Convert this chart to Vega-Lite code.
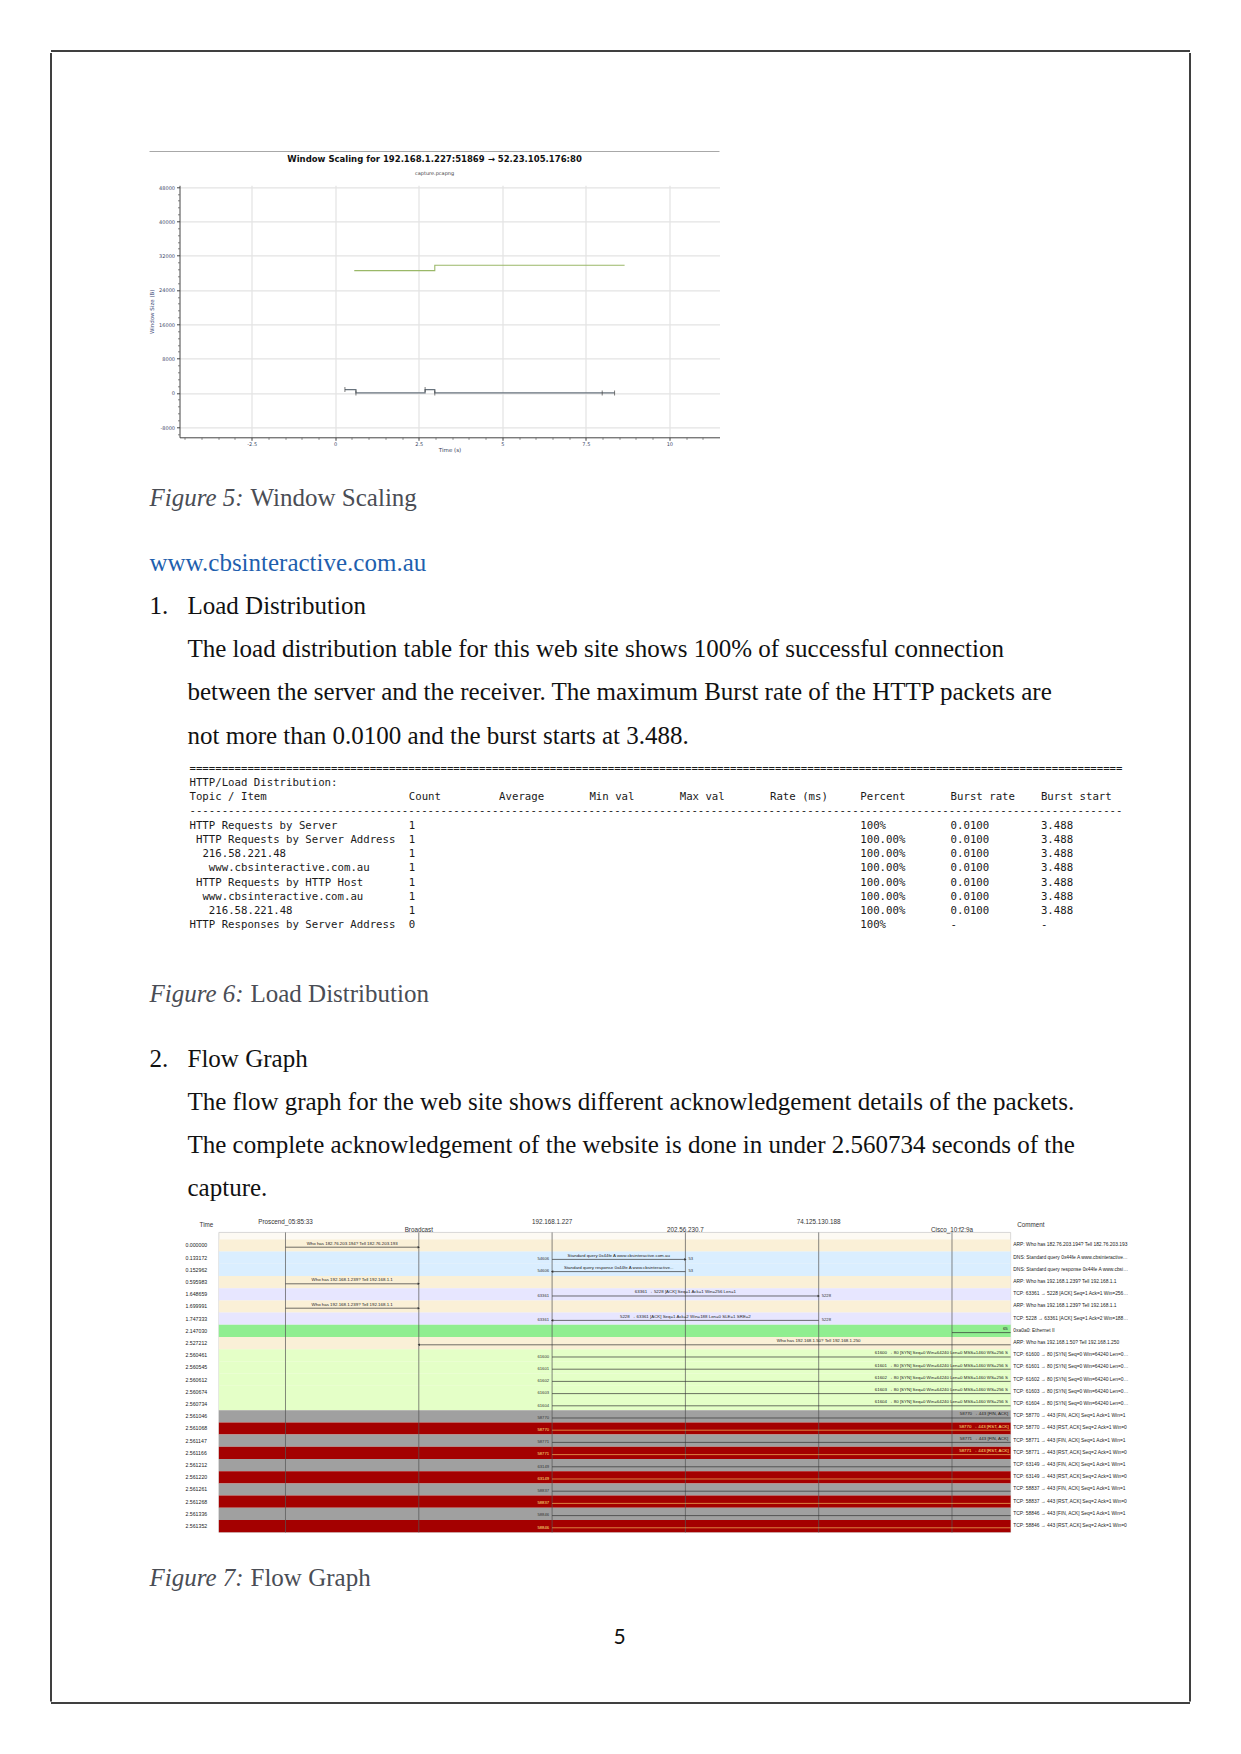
{
  "$schema": "https://vega.github.io/schema/vega-lite/v6.json",
  "background": "white",
  "padding": {"left": 49.5, "top": 49.5, "right": 0, "bottom": 0},
  "config": {"view": {"stroke": null}},
  "datasets": {
    "page": [
      {"block": 1, "kind": "caption", "line": 0, "label": "Figure 5:", "text": "Window Scaling"},
      {"block": 1, "kind": "link", "line": 3, "text": "www.cbsinteractive.com.au"},
      {"block": 1, "kind": "heading", "line": 5, "label": "1.", "text": "Load Distribution"},
      {"block": 1, "kind": "body", "line": 7, "text": "The load distribution table for this web site shows 100% of successful connection"},
      {"block": 1, "kind": "body", "line": 9, "text": "between the server and the receiver. The maximum Burst rate of the HTTP packets are"},
      {"block": 1, "kind": "body", "line": 11, "text": "not more than 0.0100 and the burst starts at 3.488."},
      {"block": 2, "kind": "caption", "line": 0, "label": "Figure 6:", "text": "Load Distribution"},
      {"block": 2, "kind": "heading", "line": 3, "label": "2.", "text": "Flow Graph"},
      {"block": 2, "kind": "body", "line": 5, "text": "The flow graph for the web site shows different acknowledgement details of the packets."},
      {"block": 2, "kind": "body", "line": 7, "text": "The complete acknowledgement of the website is done in under 2.560734 seconds of the"},
      {"block": 2, "kind": "body", "line": 9, "text": "capture."},
      {"block": 3, "kind": "caption", "line": 0, "label": "Figure 7:", "text": "Flow Graph"},
      {"block": 3, "kind": "pagenum", "line": 3, "text": "5"}
    ],
    "table": [
      {"line": 0, "level": 0, "topic": "================================================================================================================================================="},
      {"line": 1, "level": 0, "topic": "HTTP/Load Distribution:"},
      {"line": 2, "level": 0, "topic": "Topic / Item", "count": "Count", "avg": "Average", "min": "Min val", "max": "Max val", "rate": "Rate (ms)", "pct": "Percent", "brate": "Burst rate", "bstart": "Burst start"},
      {"line": 3, "level": 0, "topic": "-------------------------------------------------------------------------------------------------------------------------------------------------"},
      {"line": 4, "level": 0, "topic": "HTTP Requests by Server", "count": "1", "pct": "100%", "brate": "0.0100", "bstart": "3.488"},
      {"line": 5, "level": 1, "topic": "HTTP Requests by Server Address", "count": "1", "pct": "100.00%", "brate": "0.0100", "bstart": "3.488"},
      {"line": 6, "level": 2, "topic": "216.58.221.48", "count": "1", "pct": "100.00%", "brate": "0.0100", "bstart": "3.488"},
      {"line": 7, "level": 3, "topic": "www.cbsinteractive.com.au", "count": "1", "pct": "100.00%", "brate": "0.0100", "bstart": "3.488"},
      {"line": 8, "level": 1, "topic": "HTTP Requests by HTTP Host", "count": "1", "pct": "100.00%", "brate": "0.0100", "bstart": "3.488"},
      {"line": 9, "level": 2, "topic": "www.cbsinteractive.com.au", "count": "1", "pct": "100.00%", "brate": "0.0100", "bstart": "3.488"},
      {"line": 10, "level": 3, "topic": "216.58.221.48", "count": "1", "pct": "100.00%", "brate": "0.0100", "bstart": "3.488"},
      {"line": 11, "level": 0, "topic": "HTTP Responses by Server Address", "count": "0", "pct": "100%", "brate": "-", "bstart": "-"}
    ],
    "nodes": [
      {"name": "Proscend_05:85:33", "idx": 0, "tier": 0},
      {"name": "Broadcast", "idx": 1, "tier": 1},
      {"name": "192.168.1.227", "idx": 2, "tier": 0},
      {"name": "202.56.230.7", "idx": 3, "tier": 1},
      {"name": "74.125.130.188", "idx": 4, "tier": 0},
      {"name": "Cisco_10:f2:9a", "idx": 5, "tier": 1}
    ],
    "flow": [
      {"row": 0, "t": "0.000000", "proto": "ARP", "a": 0, "b": 1, "dir": "right", "mid": 0.5, "label": "Who has 182.76.203.194? Tell 182.76.203.193", "p1": "", "p2": "", "comment": "ARP: Who has 182.76.203.194? Tell 182.76.203.193"},
      {"row": 1, "t": "0.133172", "proto": "DNS", "a": 2, "b": 3, "dir": "right", "mid": 2.5, "label": "Standard query 0x44fe A www.cbsinteractive.com.au", "p1": "54606", "p2": "53", "comment": "DNS: Standard query 0x44fe A www.cbsinteractive.com.au"},
      {"row": 2, "t": "0.152962", "proto": "DNS", "a": 2, "b": 3, "dir": "left", "mid": 2.5, "label": "Standard query response 0x44fe A www.cbsinteractive...", "p1": "54606", "p2": "53", "comment": "DNS: Standard query response 0x44fe A www.cbsinteractive.com.au"},
      {"row": 3, "t": "0.595983", "proto": "ARP", "a": 0, "b": 1, "dir": "right", "mid": 0.5, "label": "Who has 192.168.1.239? Tell 192.168.1.1", "p1": "", "p2": "", "comment": "ARP: Who has 192.168.1.239? Tell 192.168.1.1"},
      {"row": 4, "t": "1.648659", "proto": "TCP", "a": 2, "b": 4, "dir": "right", "mid": 3, "label": "63361 → 5228 [ACK] Seq=1 Ack=1 Win=256 Len=1", "p1": "63361", "p2": "5228", "comment": "TCP: 63361 → 5228 [ACK] Seq=1 Ack=1 Win=256 Len=1"},
      {"row": 5, "t": "1.699991", "proto": "ARP", "a": 0, "b": 1, "dir": "right", "mid": 0.5, "label": "Who has 192.168.1.239? Tell 192.168.1.1", "p1": "", "p2": "", "comment": "ARP: Who has 192.168.1.239? Tell 192.168.1.1"},
      {"row": 6, "t": "1.747333", "proto": "TCP", "a": 2, "b": 4, "dir": "left", "mid": 3, "label": "5228 → 63361 [ACK] Seq=1 Ack=2 Win=188 Len=0 SLE=1 SRE=2", "p1": "63361", "p2": "5228", "comment": "TCP: 5228 → 63361 [ACK] Seq=1 Ack=2 Win=188 Len=0 SLE=1 SRE=2"},
      {"row": 7, "t": "2.147030", "proto": "ETH", "a": 5, "b": 5.44, "dir": "right", "mid": 5.4, "label": "65", "p1": "", "p2": "", "comment": "0xa0a0: Ethernet II"},
      {"row": 8, "t": "2.527212", "proto": "ARP", "a": 1, "b": 5.44, "dir": "left", "mid": 4.0, "label": "Who has 192.168.1.50? Tell 192.168.1.250", "p1": "", "p2": "", "comment": "ARP: Who has 192.168.1.50? Tell 192.168.1.250"},
      {"row": 9, "t": "2.560461", "proto": "SYN", "a": 2, "b": 5.44, "dir": "right", "mid": 4.92, "label": "61600 → 80 [SYN] Seq=0 Win=64240 Len=0 MSS=1460 WS=256 S", "p1": "61600", "p2": "", "comment": "TCP: 61600 → 80 [SYN] Seq=0 Win=64240 Len=0 MSS=1460"},
      {"row": 10, "t": "2.560545", "proto": "SYN", "a": 2, "b": 5.44, "dir": "right", "mid": 4.92, "label": "61601 → 80 [SYN] Seq=0 Win=64240 Len=0 MSS=1460 WS=256 S", "p1": "61601", "p2": "", "comment": "TCP: 61601 → 80 [SYN] Seq=0 Win=64240 Len=0 MSS=1460"},
      {"row": 11, "t": "2.560612", "proto": "SYN", "a": 2, "b": 5.44, "dir": "right", "mid": 4.92, "label": "61602 → 80 [SYN] Seq=0 Win=64240 Len=0 MSS=1460 WS=256 S", "p1": "61602", "p2": "", "comment": "TCP: 61602 → 80 [SYN] Seq=0 Win=64240 Len=0 MSS=1460"},
      {"row": 12, "t": "2.560674", "proto": "SYN", "a": 2, "b": 5.44, "dir": "right", "mid": 4.92, "label": "61603 → 80 [SYN] Seq=0 Win=64240 Len=0 MSS=1460 WS=256 S", "p1": "61603", "p2": "", "comment": "TCP: 61603 → 80 [SYN] Seq=0 Win=64240 Len=0 MSS=1460"},
      {"row": 13, "t": "2.560734", "proto": "SYN", "a": 2, "b": 5.44, "dir": "right", "mid": 4.92, "label": "61604 → 80 [SYN] Seq=0 Win=64240 Len=0 MSS=1460 WS=256 S", "p1": "61604", "p2": "", "comment": "TCP: 61604 → 80 [SYN] Seq=0 Win=64240 Len=0 MSS=1460"},
      {"row": 14, "t": "2.561046", "proto": "FIN", "a": 2, "b": 5.44, "dir": "right", "mid": 5.24, "label": "58770 → 443 [FIN, ACK]", "p1": "58770", "p2": "", "comment": "TCP: 58770 → 443 [FIN, ACK] Seq=1 Ack=1 Win=1"},
      {"row": 15, "t": "2.561068", "proto": "RST", "a": 2, "b": 5.44, "dir": "right", "mid": 5.24, "label": "58770 → 443 [RST, ACK]", "p1": "58770", "p2": "", "comment": "TCP: 58770 → 443 [RST, ACK] Seq=2 Ack=1 Win=0"},
      {"row": 16, "t": "2.561147", "proto": "FIN", "a": 2, "b": 5.44, "dir": "right", "mid": 5.24, "label": "58771 → 443 [FIN, ACK]", "p1": "58771", "p2": "", "comment": "TCP: 58771 → 443 [FIN, ACK] Seq=1 Ack=1 Win=1"},
      {"row": 17, "t": "2.561166", "proto": "RST", "a": 2, "b": 5.44, "dir": "right", "mid": 5.24, "label": "58771 → 443 [RST, ACK]", "p1": "58771", "p2": "", "comment": "TCP: 58771 → 443 [RST, ACK] Seq=2 Ack=1 Win=0"},
      {"row": 18, "t": "2.561212", "proto": "FIN", "a": 2, "b": 5.44, "dir": "right", "mid": 5.24, "label": "", "p1": "63149", "p2": "", "comment": "TCP: 63149 → 443 [FIN, ACK] Seq=1 Ack=1 Win=1"},
      {"row": 19, "t": "2.561220", "proto": "RST", "a": 2, "b": 5.44, "dir": "right", "mid": 5.24, "label": "", "p1": "63149", "p2": "", "comment": "TCP: 63149 → 443 [RST, ACK] Seq=2 Ack=1 Win=0"},
      {"row": 20, "t": "2.561261", "proto": "FIN", "a": 2, "b": 5.44, "dir": "right", "mid": 5.24, "label": "", "p1": "58837", "p2": "", "comment": "TCP: 58837 → 443 [FIN, ACK] Seq=1 Ack=1 Win=1"},
      {"row": 21, "t": "2.561268", "proto": "RST", "a": 2, "b": 5.44, "dir": "right", "mid": 5.24, "label": "", "p1": "58837", "p2": "", "comment": "TCP: 58837 → 443 [RST, ACK] Seq=2 Ack=1 Win=0"},
      {"row": 22, "t": "2.561336", "proto": "FIN", "a": 2, "b": 5.44, "dir": "right", "mid": 5.24, "label": "", "p1": "58846", "p2": "", "comment": "TCP: 58846 → 443 [FIN, ACK] Seq=1 Ack=1 Win=1"},
      {"row": 23, "t": "2.561352", "proto": "RST", "a": 2, "b": 5.44, "dir": "right", "mid": 5.24, "label": "", "p1": "58846", "p2": "", "comment": "TCP: 58846 → 443 [RST, ACK] Seq=2 Ack=1 Win=0"}
    ],
    "window": [
      {"series": "Receive window", "time": 0.57, "size": 28500},
      {"series": "Receive window", "time": 2.98, "size": 29760},
      {"series": "Receive window", "time": 8.66, "size": 29760},
      {"series": "Bytes out", "time": 0.29, "size": 770},
      {"series": "Bytes out", "time": 0.62, "size": 0},
      {"series": "Bytes out", "time": 2.69, "size": 770},
      {"series": "Bytes out", "time": 2.98, "size": 0},
      {"series": "Bytes out", "time": 7.99, "size": 0},
      {"series": "Bytes out", "time": 8.36, "size": 0}
    ]
  },
  "spacing": 0,
  "vconcat": [
    {"width": 1139, "height": 0.01, "view": {"stroke": "#000000", "strokeWidth": 1}, "data": {"values": []}, "mark": {"type": "point", "opacity": 0}, "encoding": {}},
    {
      "spacing": 0,
      "hconcat": [
        {"width": 0.01, "height": 1648.5, "view": {"stroke": "#000000", "strokeWidth": 1}, "data": {"values": []}, "mark": {"type": "point", "opacity": 0}, "encoding": {}},
        {"width": 96.5, "height": 1, "data": {"values": []}, "mark": {"type": "point", "opacity": 0}, "encoding": {}},
        {
          "spacing": 0,
          "vconcat": [
            {
              "spacing": 2.8,
              "vconcat": [
                {
                  "width": 540, "height": 99,
                  "data": {"values": [{}]},
                  "mark": {"type": "rule", "color": "#a8a8a8", "strokeWidth": 1},
                  "encoding": {
                    "x": {"datum": 0, "type": "quantitative", "scale": {"domain": [0, 1], "range": [-30, 540]}, "axis": null},
                    "x2": {"datum": 1},
                    "y": {"datum": 0, "type": "quantitative", "scale": {"domain": [0, 1]}, "axis": null}
                  }
                },
                {
                  "width": 540, "height": 252,
                  "title": {
                    "text": "Window Scaling for 192.168.1.227:51869 → 52.23.105.176:80",
                    "subtitle": "capture.pcapng",
                    "frame": "bounds", "anchor": "middle",
                    "font": "DejaVu Sans", "fontSize": 8.5, "fontWeight": "bold", "color": "#111111",
                    "subtitleFont": "DejaVu Sans", "subtitleFontSize": 5, "subtitleColor": "#444444",
                    "subtitlePadding": 7.1, "offset": 9.1
                  },
                  "data": {"name": "window"},
                  "resolve": {"axis": {"x": "independent", "y": "independent"}},
                  "layer": [
                    {
                      "transform": [{"filter": "datum.series === 'Receive window'"}],
                      "mark": {"type": "line", "interpolate": "step-after", "color": "#9ab868", "strokeWidth": 1.1},
                      "encoding": {
                        "x": {
                          "field": "time", "type": "quantitative",
                          "scale": {"domain": [-4.66, 11.5], "nice": false, "zero": false},
                          "axis": {
                            "orient": "bottom",
                            "values": [-2.5, 0, 2.5, 5, 7.5, 10],
                            "labelExpr": "datum.value < 0 ? '-' + format(-datum.value, '~g') : format(datum.value, '~g')",
                            "title": "Time (s)", "titleFont": "DejaVu Sans", "titleFontSize": 5.5, "titleFontWeight": "normal", "titleColor": "#333b55", "titlePadding": 1,
                            "labelFont": "DejaVu Sans", "labelFontSize": 5, "labelColor": "#3c4668", "labelPadding": 1, "labelFlush": false, "labelOverlap": false,
                            "tickSize": 3, "tickColor": "#444444", "domainColor": "#444444", "domainWidth": 1,
                            "grid": true, "gridColor": "#e3e3e3", "gridWidth": 1.2
                          }
                        },
                        "y": {
                          "field": "size", "type": "quantitative",
                          "scale": {"domain": [-10350, 48400], "nice": false, "zero": false},
                          "axis": {
                            "orient": "left",
                            "values": [-8000, 0, 8000, 16000, 24000, 32000, 40000, 48000],
                            "labelExpr": "datum.value < 0 ? '-' + format(-datum.value, 'd') : format(datum.value, 'd')",
                            "title": "Window Size (B)", "titleFont": "DejaVu Sans", "titleFontSize": 5.5, "titleFontWeight": "normal", "titleColor": "#3d4a78", "titlePadding": 4,
                            "labelFont": "DejaVu Sans", "labelFontSize": 5, "labelColor": "#3c4668", "labelPadding": 2, "labelFlush": false, "labelOverlap": false,
                            "tickSize": 3, "tickColor": "#444444", "domainColor": "#444444", "domainWidth": 1,
                            "grid": true, "gridColor": "#e3e3e3", "gridWidth": 1.2
                          }
                        }
                      }
                    },
                    {
                      "transform": [{"filter": "datum.series === 'Bytes out'"}],
                      "mark": {"type": "line", "interpolate": "step-after", "color": "#68737d", "strokeWidth": 1.2},
                      "encoding": {
                        "x": {"field": "time", "type": "quantitative", "scale": {"domain": [-4.66, 11.5], "nice": false, "zero": false}, "axis": null},
                        "y": {"field": "size", "type": "quantitative", "scale": {"domain": [-10350, 48400], "nice": false, "zero": false}, "axis": null}
                      }
                    },
                    {
                      "transform": [{"filter": "datum.series === 'Bytes out'"}],
                      "mark": {"type": "tick", "orient": "vertical", "size": 5, "thickness": 1, "color": "#444444"},
                      "encoding": {
                        "x": {
                          "field": "time", "type": "quantitative",
                          "scale": {"domain": [-4.66, 11.5], "nice": false, "zero": false},
                          "axis": {
                            "orient": "bottom",
                            "values": [-4.5, -4, -3.5, -3, -2, -1.5, -1, -0.5, 0.5, 1, 1.5, 2, 3, 3.5, 4, 4.5, 5.5, 6, 6.5, 7, 8, 8.5, 9, 9.5, 10.5, 11],
                            "labels": false, "domain": false, "grid": false, "title": null,
                            "ticks": true, "tickSize": 2, "tickColor": "#666666", "tickWidth": 0.8
                          }
                        },
                        "y": {
                          "field": "size", "type": "quantitative",
                          "scale": {"domain": [-10350, 48400], "nice": false, "zero": false},
                          "axis": {
                            "orient": "left",
                            "values": [-9600, -6400, -4800, -3200, -1600, 1600, 3200, 4800, 6400, 9600, 11200, 12800, 14400, 17600, 19200, 20800, 22400, 25600, 27200, 28800, 30400, 33600, 35200, 36800, 38400, 41600, 43200, 44800, 46400],
                            "labels": false, "domain": false, "grid": false, "title": null,
                            "ticks": true, "tickSize": 2, "tickColor": "#666666", "tickWidth": 0.8
                          }
                        }
                      }
                    }
                  ]
                }
              ]
            },
            {
              "width": 1008.5, "height": 307.4,
              "data": {"name": "page"},
              "transform": [{"filter": "datum.block === 1"}],
              "encoding": {"y": {"field": "line", "type": "quantitative", "scale": {"domain": [-2.06, 12.171], "reverse": true, "nice": false, "zero": false}, "axis": null}},
              "layer": [
                {"transform": [{"filter": "datum.kind === 'caption'"}], "mark": {"type": "text", "align": "left", "baseline": "middle", "font": "Liberation Serif", "fontSize": 25, "fontStyle": "italic", "color": "#4a4d55"}, "encoding": {"x": {"datum": 0, "type": "quantitative", "scale": {"domain": [0, 1], "range": [-30, 8]}, "axis": null}, "text": {"field": "label"}}},
                {"transform": [{"filter": "datum.kind === 'caption'"}], "mark": {"type": "text", "align": "left", "baseline": "middle", "font": "Liberation Serif", "fontSize": 25, "dx": 101, "color": "#4a4d55"}, "encoding": {"x": {"datum": 0, "type": "quantitative", "scale": {"domain": [0, 1], "range": [-30, 8]}, "axis": null}, "text": {"field": "text"}}},
                {"transform": [{"filter": "datum.kind === 'link'"}], "mark": {"type": "text", "align": "left", "baseline": "middle", "font": "Liberation Serif", "fontSize": 25, "color": "#1f5fae"}, "encoding": {"x": {"datum": 0, "type": "quantitative", "scale": {"domain": [0, 1], "range": [-30, 8]}, "axis": null}, "text": {"field": "text"}}},
                {"transform": [{"filter": "datum.kind === 'heading'"}], "mark": {"type": "text", "align": "left", "baseline": "middle", "font": "Liberation Serif", "fontSize": 25, "color": "#111111"}, "encoding": {"x": {"datum": 0, "type": "quantitative", "scale": {"domain": [0, 1], "range": [-30, 8]}, "axis": null}, "text": {"field": "label"}}},
                {"transform": [{"filter": "datum.kind === 'heading' || datum.kind === 'body'"}], "mark": {"type": "text", "align": "left", "baseline": "middle", "font": "Liberation Serif", "fontSize": 25, "color": "#111111"}, "encoding": {"x": {"datum": 1, "type": "quantitative", "scale": {"domain": [0, 1], "range": [-30, 8]}, "axis": null}, "text": {"field": "text"}}}
              ]
            },
            {
              "width": 1008.5, "height": 170.9,
              "data": {"name": "table"},
              "encoding": {"y": {"field": "line", "type": "quantitative", "scale": {"domain": [-0.5, 11.5], "reverse": true, "nice": false, "zero": false}, "axis": null}},
              "layer": [
                {"mark": {"type": "text", "align": "left", "baseline": "middle", "font": "DejaVu Sans Mono", "fontSize": 10.7, "color": "#1a1a1a"}, "encoding": {"x": {"field": "level", "type": "quantitative", "scale": {"domain": [0, 145], "range": [10, 945.25]}, "axis": null}, "text": {"field": "topic"}}},
                {"transform": [{"filter": "isValid(datum.count)"}], "mark": {"type": "text", "align": "left", "baseline": "middle", "font": "DejaVu Sans Mono", "fontSize": 10.7, "color": "#1a1a1a"}, "encoding": {"x": {"datum": 34, "type": "quantitative", "scale": {"domain": [0, 145], "range": [10, 945.25]}, "axis": null}, "text": {"field": "count"}}},
                {"transform": [{"filter": "isValid(datum.avg)"}], "mark": {"type": "text", "align": "left", "baseline": "middle", "font": "DejaVu Sans Mono", "fontSize": 10.7, "color": "#1a1a1a"}, "encoding": {"x": {"datum": 48, "type": "quantitative", "scale": {"domain": [0, 145], "range": [10, 945.25]}, "axis": null}, "text": {"field": "avg"}}},
                {"transform": [{"filter": "isValid(datum.min)"}], "mark": {"type": "text", "align": "left", "baseline": "middle", "font": "DejaVu Sans Mono", "fontSize": 10.7, "color": "#1a1a1a"}, "encoding": {"x": {"datum": 62, "type": "quantitative", "scale": {"domain": [0, 145], "range": [10, 945.25]}, "axis": null}, "text": {"field": "min"}}},
                {"transform": [{"filter": "isValid(datum.max)"}], "mark": {"type": "text", "align": "left", "baseline": "middle", "font": "DejaVu Sans Mono", "fontSize": 10.7, "color": "#1a1a1a"}, "encoding": {"x": {"datum": 76, "type": "quantitative", "scale": {"domain": [0, 145], "range": [10, 945.25]}, "axis": null}, "text": {"field": "max"}}},
                {"transform": [{"filter": "isValid(datum.rate)"}], "mark": {"type": "text", "align": "left", "baseline": "middle", "font": "DejaVu Sans Mono", "fontSize": 10.7, "color": "#1a1a1a"}, "encoding": {"x": {"datum": 90, "type": "quantitative", "scale": {"domain": [0, 145], "range": [10, 945.25]}, "axis": null}, "text": {"field": "rate"}}},
                {"transform": [{"filter": "isValid(datum.pct)"}], "mark": {"type": "text", "align": "left", "baseline": "middle", "font": "DejaVu Sans Mono", "fontSize": 10.7, "color": "#1a1a1a"}, "encoding": {"x": {"datum": 104, "type": "quantitative", "scale": {"domain": [0, 145], "range": [10, 945.25]}, "axis": null}, "text": {"field": "pct"}}},
                {"transform": [{"filter": "isValid(datum.brate)"}], "mark": {"type": "text", "align": "left", "baseline": "middle", "font": "DejaVu Sans Mono", "fontSize": 10.7, "color": "#1a1a1a"}, "encoding": {"x": {"datum": 118, "type": "quantitative", "scale": {"domain": [0, 145], "range": [10, 945.25]}, "axis": null}, "text": {"field": "brate"}}},
                {"transform": [{"filter": "isValid(datum.bstart)"}], "mark": {"type": "text", "align": "left", "baseline": "middle", "font": "DejaVu Sans Mono", "fontSize": 10.7, "color": "#1a1a1a"}, "encoding": {"x": {"datum": 132, "type": "quantitative", "scale": {"domain": [0, 145], "range": [10, 945.25]}, "axis": null}, "text": {"field": "bstart"}}}
              ]
            },
            {
              "width": 1008.5, "height": 282.2,
              "data": {"name": "page"},
              "transform": [{"filter": "datum.block === 2"}],
              "encoding": {"y": {"field": "line", "type": "quantitative", "scale": {"domain": [-2.833, 10.231], "reverse": true, "nice": false, "zero": false}, "axis": null}},
              "layer": [
                {"transform": [{"filter": "datum.kind === 'caption'"}], "mark": {"type": "text", "align": "left", "baseline": "middle", "font": "Liberation Serif", "fontSize": 25, "fontStyle": "italic", "color": "#4a4d55"}, "encoding": {"x": {"datum": 0, "type": "quantitative", "scale": {"domain": [0, 1], "range": [-30, 8]}, "axis": null}, "text": {"field": "label"}}},
                {"transform": [{"filter": "datum.kind === 'caption'"}], "mark": {"type": "text", "align": "left", "baseline": "middle", "font": "Liberation Serif", "fontSize": 25, "dx": 101, "color": "#4a4d55"}, "encoding": {"x": {"datum": 0, "type": "quantitative", "scale": {"domain": [0, 1], "range": [-30, 8]}, "axis": null}, "text": {"field": "text"}}},
                {"transform": [{"filter": "datum.kind === 'heading'"}], "mark": {"type": "text", "align": "left", "baseline": "middle", "font": "Liberation Serif", "fontSize": 25, "color": "#111111"}, "encoding": {"x": {"datum": 0, "type": "quantitative", "scale": {"domain": [0, 1], "range": [-30, 8]}, "axis": null}, "text": {"field": "label"}}},
                {"transform": [{"filter": "datum.kind === 'heading' || datum.kind === 'body'"}], "mark": {"type": "text", "align": "left", "baseline": "middle", "font": "Liberation Serif", "fontSize": 25, "color": "#111111"}, "encoding": {"x": {"datum": 1, "type": "quantitative", "scale": {"domain": [0, 1], "range": [-30, 8]}, "axis": null}, "text": {"field": "text"}}}
              ]
            },
            {
              "width": 950, "height": 317,
              "layer": [
                {
                  "data": {"values": [{}]},
                  "mark": {"type": "rect", "fill": "#fdfaf3", "stroke": "#c8c8c8", "strokeWidth": 0.7},
                  "encoding": {
                    "x": {"datum": -0.5, "type": "quantitative", "scale": {"domain": [-0.7952, 6.3316], "nice": false, "zero": false}, "axis": null},
                    "x2": {"datum": 5.44},
                    "y": {"datum": -1.07, "type": "quantitative", "scale": {"domain": [-2.459, 23.525], "reverse": true, "nice": false, "zero": false}, "axis": null},
                    "y2": {"datum": 23.52}
                  }
                },
                {
                  "data": {"name": "flow"},
                  "mark": {"type": "rect", "height": 12.2},
                  "encoding": {
                    "x": {"datum": -0.5, "type": "quantitative", "scale": {"domain": [-0.7952, 6.3316], "nice": false, "zero": false}, "axis": null},
                    "x2": {"datum": 5.44},
                    "y": {"field": "row", "type": "quantitative", "scale": {"domain": [-2.459, 23.525], "reverse": true, "nice": false, "zero": false}, "axis": null},
                    "color": {"field": "proto", "type": "nominal", "legend": null, "scale": {"domain": ["ARP", "DNS", "TCP", "ETH", "SYN", "FIN", "RST"], "range": ["#faf0d7", "#daeeff", "#e7e6ff", "#90ee90", "#e4ffc7", "#a0a0a0", "#a40000"]}}
                  }
                },
                {
                  "data": {"name": "nodes"},
                  "mark": {"type": "rule", "color": "#555555", "strokeWidth": 0.7},
                  "encoding": {
                    "x": {"field": "idx", "type": "quantitative", "scale": {"domain": [-0.7952, 6.3316], "nice": false, "zero": false}, "axis": null},
                    "y": {"datum": -1.07, "type": "quantitative", "scale": {"domain": [-2.459, 23.525], "reverse": true, "nice": false, "zero": false}, "axis": null},
                    "y2": {"datum": 23.52}
                  }
                },
                {
                  "data": {"name": "nodes"},
                  "transform": [{"filter": "datum.tier === 0"}],
                  "mark": {"type": "text", "align": "center", "baseline": "middle", "font": "Liberation Sans", "fontSize": 6.3, "color": "#333333"},
                  "encoding": {
                    "x": {"field": "idx", "type": "quantitative", "scale": {"domain": [-0.7952, 6.3316], "nice": false, "zero": false}, "axis": null},
                    "y": {"datum": -1.967, "type": "quantitative", "scale": {"domain": [-2.459, 23.525], "reverse": true, "nice": false, "zero": false}, "axis": null},
                    "text": {"field": "name"}
                  }
                },
                {
                  "data": {"name": "nodes"},
                  "transform": [{"filter": "datum.tier === 1"}],
                  "mark": {"type": "text", "align": "center", "baseline": "middle", "font": "Liberation Sans", "fontSize": 6.3, "color": "#333333"},
                  "encoding": {
                    "x": {"field": "idx", "type": "quantitative", "scale": {"domain": [-0.7952, 6.3316], "nice": false, "zero": false}, "axis": null},
                    "y": {"datum": -1.311, "type": "quantitative", "scale": {"domain": [-2.459, 23.525], "reverse": true, "nice": false, "zero": false}, "axis": null},
                    "text": {"field": "name"}
                  }
                },
                {
                  "data": {"values": [{"head": "Time"}]},
                  "mark": {"type": "text", "align": "center", "baseline": "middle", "font": "Liberation Sans", "fontSize": 6.3, "color": "#333333"},
                  "encoding": {
                    "x": {"datum": -0.593, "type": "quantitative", "scale": {"domain": [-0.7952, 6.3316], "nice": false, "zero": false}, "axis": null},
                    "y": {"datum": -1.721, "type": "quantitative", "scale": {"domain": [-2.459, 23.525], "reverse": true, "nice": false, "zero": false}, "axis": null},
                    "text": {"field": "head"}
                  }
                },
                {
                  "data": {"values": [{"head": "Comment"}]},
                  "mark": {"type": "text", "align": "left", "baseline": "middle", "font": "Liberation Sans", "fontSize": 6.3, "color": "#333333"},
                  "encoding": {
                    "x": {"datum": 5.49, "type": "quantitative", "scale": {"domain": [-0.7952, 6.3316], "nice": false, "zero": false}, "axis": null},
                    "y": {"datum": -1.721, "type": "quantitative", "scale": {"domain": [-2.459, 23.525], "reverse": true, "nice": false, "zero": false}, "axis": null},
                    "text": {"field": "head"}
                  }
                },
                {
                  "data": {"name": "flow"},
                  "mark": {"type": "text", "align": "left", "baseline": "middle", "font": "Liberation Sans", "fontSize": 5.2, "color": "#222222"},
                  "encoding": {
                    "x": {"datum": -0.75, "type": "quantitative", "scale": {"domain": [-0.7952, 6.3316], "nice": false, "zero": false}, "axis": null},
                    "y": {"field": "row", "type": "quantitative", "scale": {"domain": [-2.459, 23.525], "reverse": true, "nice": false, "zero": false}, "axis": null},
                    "text": {"field": "t"}
                  }
                },
                {
                  "data": {"name": "flow"},
                  "mark": {"type": "rule", "strokeWidth": 0.7, "yOffset": 1.7},
                  "encoding": {
                    "x": {"field": "a", "type": "quantitative", "scale": {"domain": [-0.7952, 6.3316], "nice": false, "zero": false}, "axis": null},
                    "x2": {"field": "b"},
                    "y": {"field": "row", "type": "quantitative", "scale": {"domain": [-2.459, 23.525], "reverse": true, "nice": false, "zero": false}, "axis": null},
                    "color": {"condition": {"test": "datum.proto === 'RST'", "value": "#f3b75a"}, "value": "#333333"}
                  }
                },
                {
                  "data": {"name": "flow"},
                  "transform": [{"filter": "datum.dir === 'right' && datum.b <= 5"}],
                  "mark": {"type": "point", "shape": "triangle-right", "size": 7, "filled": true, "opacity": 1, "yOffset": 1.7, "color": "#333333"},
                  "encoding": {
                    "x": {"field": "b", "type": "quantitative", "scale": {"domain": [-0.7952, 6.3316], "nice": false, "zero": false}, "axis": null},
                    "y": {"field": "row", "type": "quantitative", "scale": {"domain": [-2.459, 23.525], "reverse": true, "nice": false, "zero": false}, "axis": null}
                  }
                },
                {
                  "data": {"name": "flow"},
                  "transform": [{"filter": "datum.dir === 'left'"}],
                  "mark": {"type": "point", "shape": "triangle-left", "size": 7, "filled": true, "opacity": 1, "yOffset": 1.7, "color": "#333333"},
                  "encoding": {
                    "x": {"field": "a", "type": "quantitative", "scale": {"domain": [-0.7952, 6.3316], "nice": false, "zero": false}, "axis": null},
                    "y": {"field": "row", "type": "quantitative", "scale": {"domain": [-2.459, 23.525], "reverse": true, "nice": false, "zero": false}, "axis": null}
                  }
                },
                {
                  "data": {"name": "flow"},
                  "transform": [{"filter": "datum.label !== ''"}],
                  "mark": {"type": "text", "align": "center", "baseline": "middle", "font": "Liberation Sans", "fontSize": 4.4, "yOffset": -1.8},
                  "encoding": {
                    "x": {"field": "mid", "type": "quantitative", "scale": {"domain": [-0.7952, 6.3316], "nice": false, "zero": false}, "axis": null},
                    "y": {"field": "row", "type": "quantitative", "scale": {"domain": [-2.459, 23.525], "reverse": true, "nice": false, "zero": false}, "axis": null},
                    "text": {"field": "label"},
                    "color": {"condition": {"test": "datum.proto === 'RST'", "value": "#ffe680"}, "value": "#222222"}
                  }
                },
                {
                  "data": {"name": "flow"},
                  "transform": [{"filter": "datum.p1 !== ''"}],
                  "mark": {"type": "text", "align": "right", "baseline": "middle", "font": "Liberation Sans", "fontSize": 4.2, "dx": -3, "yOffset": 1.5},
                  "encoding": {
                    "x": {"field": "a", "type": "quantitative", "scale": {"domain": [-0.7952, 6.3316], "nice": false, "zero": false}, "axis": null},
                    "y": {"field": "row", "type": "quantitative", "scale": {"domain": [-2.459, 23.525], "reverse": true, "nice": false, "zero": false}, "axis": null},
                    "text": {"field": "p1"},
                    "color": {"condition": {"test": "datum.proto === 'RST'", "value": "#ffe680"}, "value": "#333333"}
                  }
                },
                {
                  "data": {"name": "flow"},
                  "transform": [{"filter": "datum.p2 !== ''"}],
                  "mark": {"type": "text", "align": "left", "baseline": "middle", "font": "Liberation Sans", "fontSize": 4.2, "dx": 3, "yOffset": 1.5, "color": "#333333"},
                  "encoding": {
                    "x": {"field": "b", "type": "quantitative", "scale": {"domain": [-0.7952, 6.3316], "nice": false, "zero": false}, "axis": null},
                    "y": {"field": "row", "type": "quantitative", "scale": {"domain": [-2.459, 23.525], "reverse": true, "nice": false, "zero": false}, "axis": null},
                    "text": {"field": "p2"}
                  }
                },
                {
                  "data": {"name": "flow"},
                  "mark": {"type": "text", "align": "left", "baseline": "middle", "font": "Liberation Sans", "fontSize": 4.9, "color": "#222222", "limit": 116, "ellipsis": ""},
                  "encoding": {
                    "x": {"datum": 5.46, "type": "quantitative", "scale": {"domain": [-0.7952, 6.3316], "nice": false, "zero": false}, "axis": null},
                    "y": {"field": "row", "type": "quantitative", "scale": {"domain": [-2.459, 23.525], "reverse": true, "nice": false, "zero": false}, "axis": null},
                    "text": {"field": "comment"}
                  }
                }
              ]
            },
            {
              "width": 1008.5, "height": 120.6,
              "data": {"name": "page"},
              "transform": [{"filter": "datum.block === 3"}],
              "encoding": {"y": {"field": "line", "type": "quantitative", "scale": {"domain": [-2.083, 3.5], "reverse": true, "nice": false, "zero": false}, "axis": null}},
              "layer": [
                {"transform": [{"filter": "datum.kind === 'caption'"}], "mark": {"type": "text", "align": "left", "baseline": "middle", "font": "Liberation Serif", "fontSize": 25, "fontStyle": "italic", "color": "#4a4d55"}, "encoding": {"x": {"datum": 0, "type": "quantitative", "scale": {"domain": [0, 1], "range": [-30, 8]}, "axis": null}, "text": {"field": "label"}}},
                {"transform": [{"filter": "datum.kind === 'caption'"}], "mark": {"type": "text", "align": "left", "baseline": "middle", "font": "Liberation Serif", "fontSize": 25, "dx": 101, "color": "#4a4d55"}, "encoding": {"x": {"datum": 0, "type": "quantitative", "scale": {"domain": [0, 1], "range": [-30, 8]}, "axis": null}, "text": {"field": "text"}}},
                {"transform": [{"filter": "datum.kind === 'pagenum'"}], "mark": {"type": "text", "align": "center", "baseline": "middle", "font": "Lato", "fontSize": 21, "dy": -5, "color": "#111111"}, "encoding": {"x": {"datum": 12.37, "type": "quantitative", "scale": {"domain": [0, 1], "range": [-30, 8]}, "axis": null}, "text": {"field": "text"}}}
              ]
            }
          ]
        },
        {"width": 0.01, "height": 1648.5, "view": {"stroke": "#000000", "strokeWidth": 1}, "data": {"values": []}, "mark": {"type": "point", "opacity": 0}, "encoding": {}}
      ]
    },
    {"width": 1139, "height": 0.01, "view": {"stroke": "#000000", "strokeWidth": 1}, "data": {"values": []}, "mark": {"type": "point", "opacity": 0}, "encoding": {}}
  ]
}
